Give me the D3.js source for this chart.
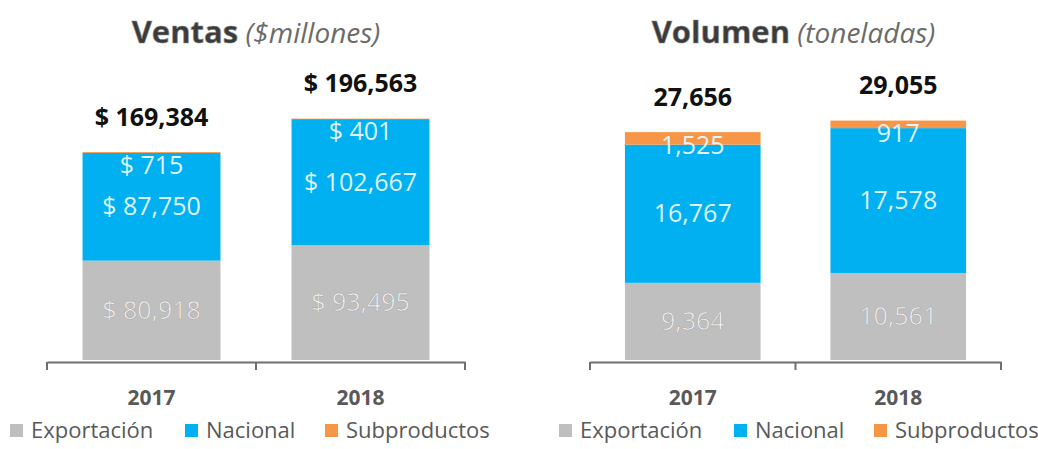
<!DOCTYPE html>
<html>
<head>
<meta charset="utf-8">
<script src="https://cdn.jsdelivr.net/npm/d3@7"></script>
<style>
  body { margin: 0; background: #fff; }
  svg { display: block; font-family: "Open Sans", sans-serif; }
</style>
</head>
<body>
<svg id="chart" width="1038" height="449"></svg>
<script>
// categories and series
var years = ["2017", "2018"];
var seriesNames = ["Exportación", "Nacional", "Subproductos"];
var seriesColors = ["#bfbfbf", "#00b0f0", "#f79646"];

// Ventas ($ millones)
var ventasExportacion = [80918, 93495];
var ventasNacional = [87750, 102667];
var ventasSubproductos = [715, 401];
var ventasTotal = [169384, 196563];

// Volumen (toneladas)
var volExportacion = [9364, 10561];
var volNacional = [16767, 17578];
var volSubproductos = [1525, 917];
var volTotal = [27656, 29055];

var svg = d3.select("#chart");
var fmt = d3.format(",");

function drawPanel(opts) {
    var g = svg.append("g");

    // rows for the stack
    var rows = years.map(function(y, i) {
        return {year: y, "Exportación": opts.exp[i], "Nacional": opts.nac[i],
                "Subproductos": opts.sub[i], total: opts.total[i]};
    });
    var stacked = d3.stack().keys(seriesNames)(rows);

    var x = d3.scaleBand()
        .domain(years)
        .range([opts.x0, opts.x1])
        .padding(0);
    var barW = x.bandwidth() * 0.66;

    var y = d3.scaleLinear()
        .domain([0, opts.ymax])
        .range([360, 360 - opts.ymax * opts.pxPerUnit]);

    // title
    var title = g.append("text")
        .attr("x", (opts.x0 + opts.x1) / 2 + opts.titleShift)
        .attr("y", 43)
        .attr("text-anchor", "middle")
        .style("font-size", "31px");
    title.append("tspan")
        .attr("font-weight", "bold")
        .attr("fill", "#3b3b3b")
        .attr("stroke", "#8a8a8a")
        .attr("stroke-width", 0.6)
        .text(opts.title);
    title.append("tspan")
        .attr("font-style", "italic")
        .attr("fill", "#6b6b6b")
        .style("font-size", "28px")
        .text(" " + opts.subtitle);

    // bars
    g.selectAll(".layer")
        .data(stacked)
        .enter().append("g")
        .attr("class", "layer")
        .attr("fill", function(d, i) { return seriesColors[i]; })
        .selectAll("rect")
        .data(function(d) { return d; })
        .enter().append("rect")
        .attr("x", function(d) { return x(d.data.year) + (x.bandwidth() - barW) / 2; })
        .attr("width", barW)
        .attr("y", function(d) { return y(d[1]); })
        .attr("height", function(d) { return y(d[0]) - y(d[1]); });

    // x axis
    var axis = g.append("g")
        .attr("transform", "translate(0,362)")
        .call(d3.axisBottom(x).tickSize(0).tickPadding(28).tickSizeOuter(0));
    axis.select(".domain").attr("stroke", "#6e6e6e").attr("stroke-width", 2);
    axis.selectAll("text")
        .style("font-size", "21px")
        .attr("font-weight", "bold")
        .attr("fill", "#595959")
        .attr("font-family", "Open Sans, sans-serif");
    // category boundary ticks
    var bounds = [opts.x0].concat(years.map(function(d) { return x(d) + x.bandwidth(); }));
    g.selectAll(".bt")
        .data(bounds)
        .enter().append("line")
        .attr("x1", function(d) { return d; })
        .attr("x2", function(d) { return d; })
        .attr("y1", 362)
        .attr("y2", 370)
        .attr("stroke", "#6e6e6e")
        .attr("stroke-width", 2);

    // segment labels
    var cx = function(d) { return x(d.year) + x.bandwidth() / 2; };
    g.selectAll(".lblExp")
        .data(rows)
        .enter().append("text")
        .attr("x", cx)
        .attr("y", function(d) { return (y(0) + y(d["Exportación"])) / 2 + 2; })
        .attr("text-anchor", "middle")
        .attr("dominant-baseline", "middle")
        .attr("fill", "#f4f4f4")
        .attr("stroke", "#a9a9a9")
        .attr("stroke-width", 0.6)
        .style("font-size", "25px")
        .text(function(d) { return opts.prefix + fmt(d["Exportación"]); });
    g.selectAll(".lblNac")
        .data(rows)
        .enter().append("text")
        .attr("x", cx)
        .attr("y", function(d) {
            return (y(d["Exportación"]) + y(d["Exportación"] + d["Nacional"])) / 2 + 2;
        })
        .attr("text-anchor", "middle")
        .attr("dominant-baseline", "middle")
        .attr("fill", "#dff4fd")
        .style("font-size", "25px")
        .text(function(d) { return opts.prefix + fmt(d["Nacional"]); });
    g.selectAll(".lblSub")
        .data(rows)
        .enter().append("text")
        .attr("x", cx)
        .attr("y", function(d) { return y(d.total) + 15; })
        .attr("text-anchor", "middle")
        .attr("dominant-baseline", "middle")
        .attr("fill", "#dff4fd")
        .style("font-size", "25px")
        .text(function(d) { return opts.prefix + fmt(d["Subproductos"]); });

    // totals
    g.selectAll(".lblTot")
        .data(rows)
        .enter().append("text")
        .attr("x", cx)
        .attr("y", function(d) { return y(d.total) - 33; })
        .attr("text-anchor", "middle")
        .attr("dominant-baseline", "middle")
        .attr("font-weight", "bold")
        .attr("fill", "#111")
        .style("font-size", "25px")
        .text(function(d) { return opts.prefix + fmt(d.total); });

    // legend
    var lg = g.append("g").attr("transform", "translate(" + opts.legendX + ",0)");
    var offs = [0, 175, 315];
    seriesNames.forEach(function(name, i) {
        lg.append("rect")
            .attr("x", offs[i])
            .attr("y", 424)
            .attr("width", 13)
            .attr("height", 13)
            .attr("fill", seriesColors[i]);
        lg.append("text")
            .attr("x", offs[i] + 21)
            .attr("y", 438)
            .attr("fill", "#595959")
            .style("font-size", "22px")
            .text(name);
    });
}

drawPanel({
    title: "Ventas", subtitle: "($millones)",
    exp: ventasExportacion, nac: ventasNacional, sub: ventasSubproductos, total: ventasTotal,
    x0: 47, x1: 465, ymax: 250000, pxPerUnit: 0.001228,
    prefix: "$ ", titleShift: 0, legendX: 10
});

drawPanel({
    title: "Volumen", subtitle: "(toneladas)",
    exp: volExportacion, nac: volNacional, sub: volSubproductos, total: volTotal,
    x0: 590, x1: 1001, ymax: 35000, pxPerUnit: 0.00824,
    prefix: "", titleShift: -2, legendX: 559
});
</script>
</body>
</html>
